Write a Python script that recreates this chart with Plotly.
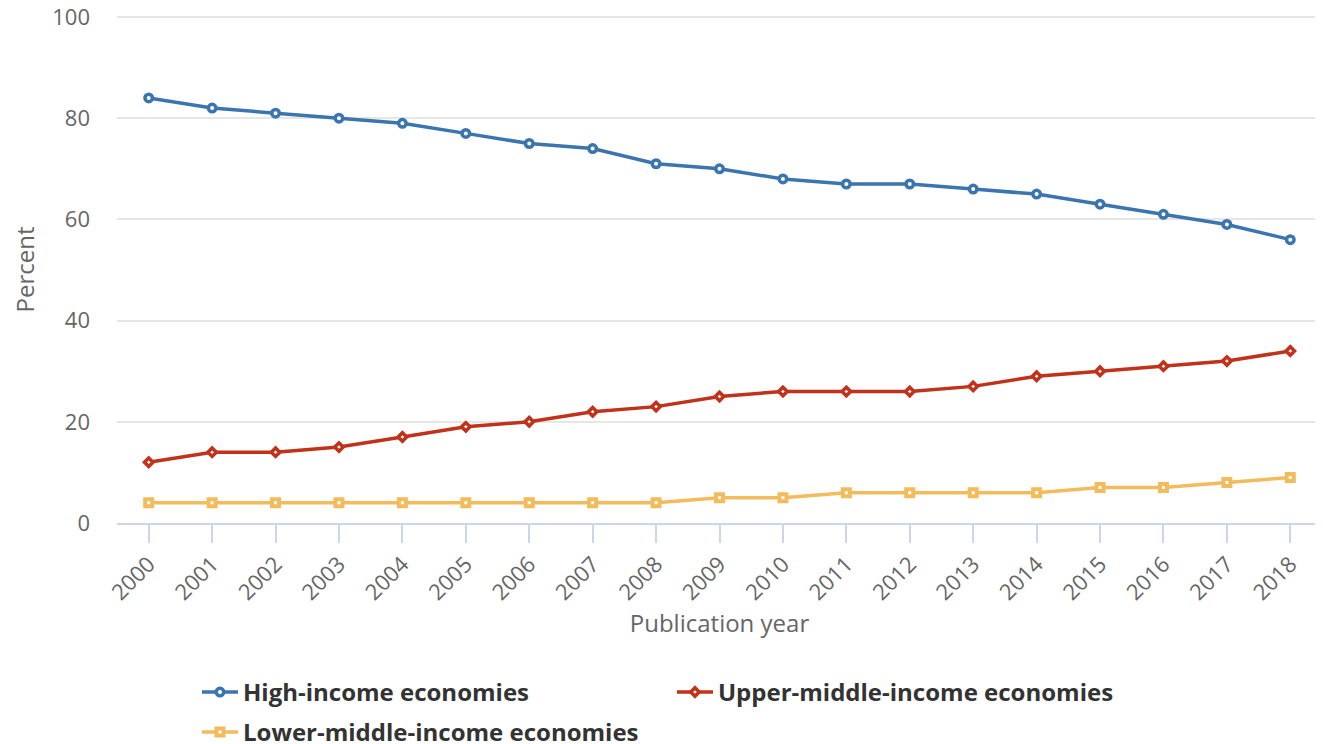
import plotly.graph_objects as go

years = [str(y) for y in range(2000, 2019)]
high_income = [84, 82, 81, 80, 79, 77, 75, 74, 71, 70, 68, 67, 67, 66, 65, 63, 61, 59, 56]
upper_middle = [12, 14, 14, 15, 17, 19, 20, 22, 23, 25, 26, 26, 26, 27, 29, 30, 31, 32, 34]
lower_middle = [4, 4, 4, 4, 4, 4, 4, 4, 4, 5, 5, 6, 6, 6, 6, 7, 7, 8, 9]

series = [
    ("High-income economies", high_income, "#3a75b0", "circle", 7.5, 3.5, "legend"),
    ("Upper-middle-income economies", upper_middle, "#c0321a", "diamond", 6.5, 3.5, "legend"),
    ("Lower-middle-income economies", lower_middle, "#f2bb5c", "square", 7, 4, "legend2"),
]

fig = go.Figure()
for name, vals, color, sym, size, lw, leg in series:
    fig.add_trace(go.Scatter(
        x=years, y=vals, name=name, mode="lines+markers", legend=leg,
        line=dict(color=color, width=3.5),
        marker=dict(symbol=sym, size=size, color="white",
                    line=dict(color=color, width=lw)),
    ))

legend_font = dict(family="Open Sans", size=24, color="#333333", weight="bold")

# page body has an 8px margin: figure is sized/offset to compensate
fig.update_layout(
    width=1315, height=736,
    margin=dict(l=109, r=1, t=8, b=221, autoexpand=False),
    paper_bgcolor="white", plot_bgcolor="white",
    font=dict(family="Open Sans", color="#666666", size=22),
    showlegend=True,
    legend=dict(
        orientation="h", xref="container", yref="container",
        x=0.1437, xanchor="left", y=0.1006, yanchor="top",
        entrywidth=424, entrywidthmode="pixels",
        font=legend_font, itemwidth=36,
    ),
    legend2=dict(
        orientation="h", xref="container", yref="container",
        x=0.1437, xanchor="left", y=0.0462, yanchor="top",
        font=legend_font, itemwidth=36,
    ),
    xaxis=dict(
        type="category", range=[-0.5, 18.5], automargin=False,
        showgrid=False, showline=True, linecolor="#ccd6eb", linewidth=1.5,
        ticks="outside", ticklen=18, tickwidth=1.5, tickcolor="#ccd6eb", tickangle=-45,
        tickfont=dict(size=22, color="#666666"),
        title=dict(text="Publication year", font=dict(size=24, color="#666666"), standoff=8),
    ),
    yaxis=dict(
        range=[0, 100.2], tickmode="linear", tick0=0, dtick=20,
        showgrid=True, gridcolor="#e6e6e6", gridwidth=1.5,
        zeroline=False, showline=False, automargin=False,
        ticklabelstandoff=26, ticklabeloverflow="allow",
        tickfont=dict(size=22, color="#666666"),
        title=dict(text="Percent", font=dict(size=24, color="#666666"), standoff=22),
    ),
)

fig.write_html("out.html")
